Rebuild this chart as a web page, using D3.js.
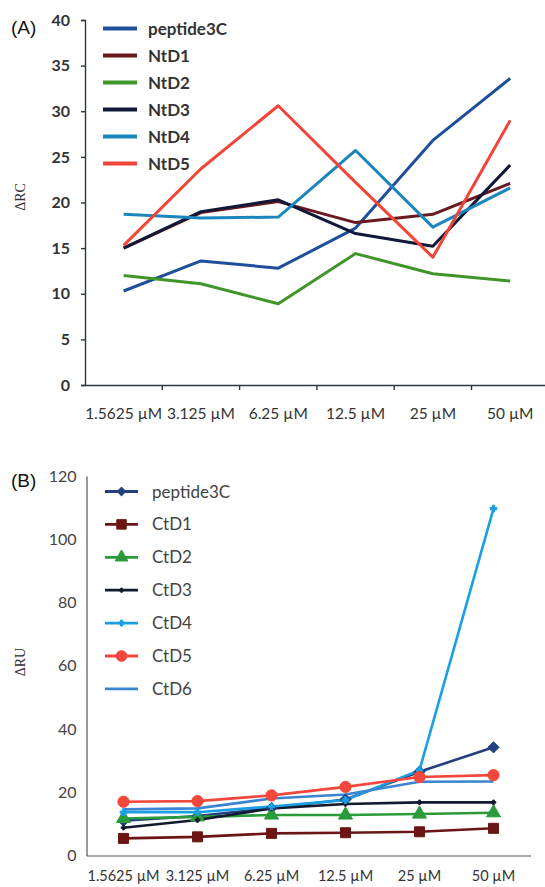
<!DOCTYPE html>
<html><head><meta charset="utf-8">
<script src="https://cdn.jsdelivr.net/npm/d3@7"></script>
<style>
html,body{margin:0;padding:0;background:#fff;}
svg{display:block;}
</style></head>
<body>
<svg id="c" width="545" height="887"></svg>
<script>
// ---------- Data ----------
const categories = ["1.5625 µM","3.125 µM","6.25 µM","12.5 µM","25 µM","50 µM"];

// Panel A (ΔRC)
const seriesA = ["peptide3C","NtD1","NtD2","NtD3","NtD4","NtD5"];
const peptide3C_A = [10.3, 13.6, 12.8, 17.2, 26.8, 33.6];
const NtD1 = [15.0, 18.9, 20.1, 17.8, 18.7, 22.1];
const NtD2 = [12.0, 11.1, 8.9, 14.4, 12.2, 11.4];
const NtD3 = [15.0, 19.0, 20.3, 16.6, 15.2, 24.1];
const NtD4 = [18.7, 18.3, 18.4, 25.7, 17.3, 21.6];
const NtD5 = [15.3, 23.7, 30.6, 22.2, 14.0, 29.0];
const ticksA = [0,5,10,15,20,25,30,35,40];

// Panel B (ΔRU)
const seriesB = ["peptide3C","CtD1","CtD2","CtD3","CtD4","CtD5","CtD6"];
const peptide3C_B = [11.0, 12.5, 15.0, 17.7, 26.5, 34.2];
const CtD1 = [5.4, 5.9, 7.0, 7.2, 7.5, 8.6];
const CtD2 = [11.7, 12.2, 12.8, 12.8, 13.1, 13.5];
const CtD3 = [8.8, 11.2, 14.9, 16.3, 16.8, 16.8];
const CtD4 = [13.7, 13.7, 15.5, 17.5, 27.0, 109.7];
const CtD5 = [17.0, 17.2, 19.0, 21.7, 24.8, 25.4];
const CtD6 = [14.6, 14.9, 18.0, 19.3, 23.3, 23.4];
const ticksB = [0,20,40,60,80,100,120];

const dataA = [peptide3C_A, NtD1, NtD2, NtD3, NtD4, NtD5];
const dataB = [peptide3C_B, CtD1, CtD2, CtD3, CtD4, CtD5, CtD6];

// ---------- Styles ----------
const colorsA = ["#1f4f9a","#6a1a1e","#3f952a","#121838","#1b86bd","#f2453a"];
const colorsB = ["#22407e","#6b1515","#2a9a3a","#121a30","#1aa0e2","#f2473c","#3a84d2"];
const symB = [d3.symbolDiamond2, d3.symbolSquare, d3.symbolTriangle, d3.symbolCross, d3.symbolCross, d3.symbolCircle, null];
const symSize = [80, 100, 85, 12, 25, 100, 0];
const symSizeLeg = [50, 90, 70, 10, 20, 90, 0];

const narrow = "Lato,'Open Sans',sans-serif";
const svg = d3.select("#c");

// ---------- Panel A ----------
const xA = d3.scaleBand().domain(categories).range([85, 548.8]);
const yA = d3.scaleLinear().domain([0,40]).range([385,20]);
const gA = svg.append("g");
const axisCol = "#2b3744";

const yAxA = gA.append("g").attr("transform","translate(85,0)")
  .call(d3.axisLeft(yA).tickValues(ticksA).tickSize(4).tickPadding(11));
yAxA.select(".domain").attr("stroke",axisCol).attr("stroke-width",1.4);
yAxA.selectAll(".tick line").attr("stroke",axisCol).attr("stroke-width",1.4);
yAxA.selectAll(".tick text").attr("font-family",narrow).attr("font-size",16).attr("font-weight","bold").attr("fill","#333");

const xAxA = gA.append("g").attr("transform","translate(0,385)")
  .call(d3.axisBottom(xA).tickSize(0).tickPadding(23).tickSizeOuter(0));
xAxA.select(".domain").attr("stroke",axisCol).attr("stroke-width",1.6);
xAxA.selectAll(".tick text").attr("font-family",narrow).attr("font-size",15.5).attr("fill","#333");
gA.append("g").selectAll("line").data(categories.slice(0,5)).join("line")
  .attr("x1",d=>xA(d)+xA.bandwidth()).attr("x2",d=>xA(d)+xA.bandwidth())
  .attr("y1",385).attr("y2",390).attr("stroke",axisCol).attr("stroke-width",1.4);

const lineA = d3.line().x((d,i)=>xA(categories[i])+xA.bandwidth()/2).y(d=>yA(d));
gA.append("g").selectAll("path").data(dataA).join("path")
  .attr("d",d=>lineA(d)).attr("fill","none")
  .attr("stroke",(d,i)=>colorsA[i]).attr("stroke-width",3).attr("stroke-linejoin","round");

const legA = gA.append("g");
seriesA.forEach((s,i)=>{
  const y = 28.5 + i*27;
  legA.append("line").attr("x1",103).attr("x2",137).attr("y1",y).attr("y2",y)
    .attr("stroke",colorsA[i]).attr("stroke-width",4);
  legA.append("text").attr("x",148).attr("y",y+6).text(s)
    .attr("font-family",narrow).attr("font-size",17).attr("font-weight","bold").attr("fill","#333");
});
gA.append("text").attr("x",11).attr("y",34).text("(A)")
  .attr("font-family","Arial,'Liberation Sans',sans-serif").attr("font-size",19).attr("fill","#111");
gA.append("text").attr("transform","translate(25,197) rotate(-90)").attr("text-anchor","middle")
  .text("ΔRC").attr("font-family","'Liberation Serif',serif").attr("font-size",14).attr("fill","#333");

// ---------- Panel B ----------
const xB = d3.scaleBand().domain(categories).range([86.5, 530.5]);
const yB = d3.scaleLinear().domain([0,120]).range([855.5,476]);
const gB = svg.append("g");
const axisColB = "#555";

const yAxB = gB.append("g").attr("transform","translate(86.5,0)")
  .call(d3.axisLeft(yB).tickValues(ticksB).tickSize(0).tickPadding(10));
yAxB.select(".domain").attr("stroke",axisColB).attr("stroke-width",1.2);
yAxB.selectAll(".tick text").attr("font-family",narrow).attr("font-size",16).attr("fill","#444");

const xAxB = gB.append("g").attr("transform","translate(0,855.5)")
  .call(d3.axisBottom(xB).tickSize(0).tickPadding(15).tickSizeOuter(0));
xAxB.select(".domain").attr("stroke",axisColB).attr("stroke-width",1.2);
xAxB.selectAll(".tick text").attr("font-family",narrow).attr("font-size",14.5).attr("fill","#333");

const lineB = d3.line().x((d,i)=>xB(categories[i])+xB.bandwidth()/2).y(d=>yB(d));
dataB.forEach((arr,k)=>{
  gB.append("path").attr("d",lineB(arr)).attr("fill","none")
    .attr("stroke",colorsB[k]).attr("stroke-width",2.6).attr("stroke-linejoin","round");
});
dataB.forEach((arr,k)=>{
  if(!symB[k]) return;
  const sym = d3.symbol().type(symB[k]).size(symSize[k]);
  gB.append("g").selectAll("path").data(arr).join("path")
    .attr("transform",(d,i)=>`translate(${xB(categories[i])+xB.bandwidth()/2},${yB(d)})`)
    .attr("d",sym).attr("fill",colorsB[k]).attr("stroke",colorsB[k]).attr("stroke-width",1);
});

const legB = gB.append("g");
seriesB.forEach((s,i)=>{
  const y = 491.5 + i*32.9;
  legB.append("line").attr("x1",105).attr("x2",138).attr("y1",y).attr("y2",y)
    .attr("stroke",colorsB[i]).attr("stroke-width",2.8);
  if(symB[i]){
    legB.append("path").attr("transform",`translate(121.5,${y})`)
      .attr("d",d3.symbol().type(symB[i]).size(symSizeLeg[i])).attr("fill",colorsB[i]).attr("stroke",colorsB[i]);
  }
  legB.append("text").attr("x",152).attr("y",y+6).text(s)
    .attr("font-family",narrow).attr("font-size",17).attr("fill","#444");
});
gB.append("text").attr("x",11).attr("y",487).text("(B)")
  .attr("font-family","Arial,'Liberation Sans',sans-serif").attr("font-size",19).attr("fill","#111");
gB.append("text").attr("transform","translate(25,662) rotate(-90)").attr("text-anchor","middle")
  .text("ΔRU").attr("font-family","'Liberation Serif',serif").attr("font-size",14).attr("fill","#333");
</script>
</body></html>
